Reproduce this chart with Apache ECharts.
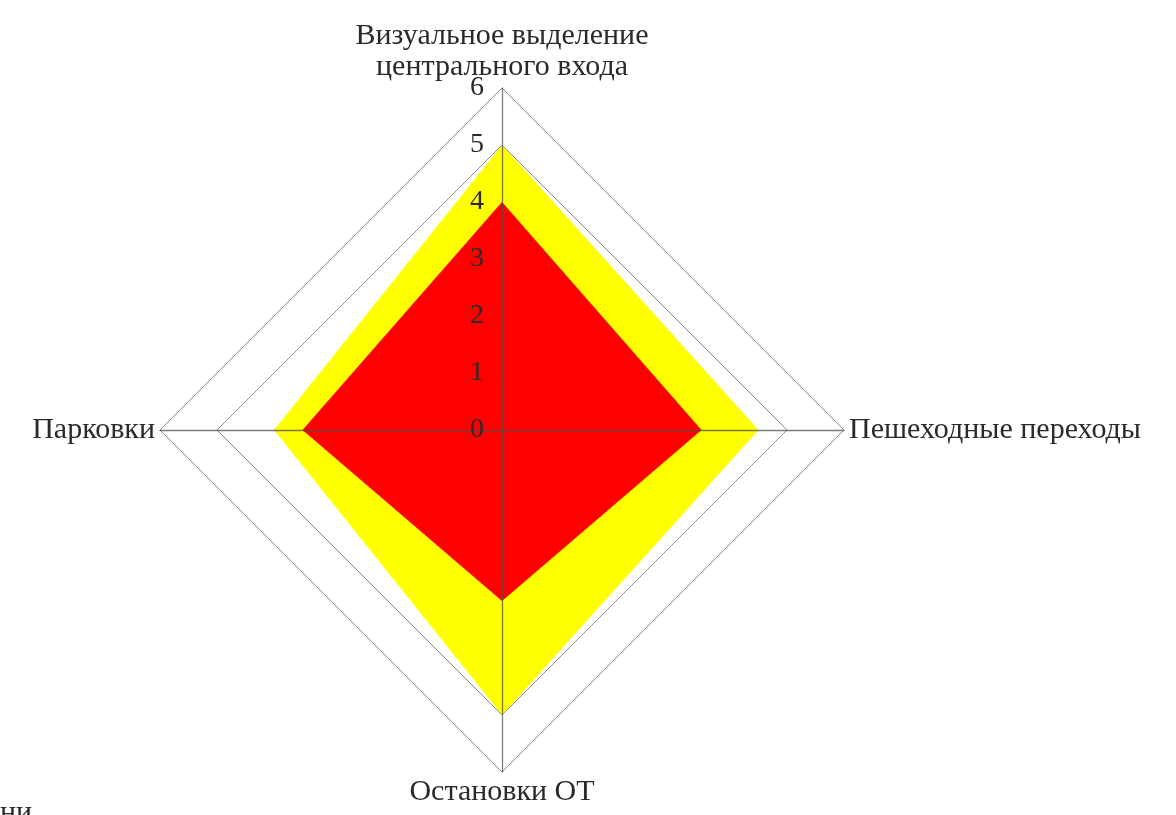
<!DOCTYPE html>
<html>
<head>
    <meta charset="utf-8">
    <title>ECharts</title>
    <script src="https://cdn.jsdelivr.net/npm/echarts@6/dist/echarts.min.js"></script>
    <style>
        html, body { margin: 0; padding: 0; background: #fff; }
    </style>
</head>
<body>
    <div id="main" style="width: 1176px;height:815px;"></div>
    <script type="text/javascript">
        // indicators go counter-clockwise from the top: top, left, bottom, right
        var axisNames = ['Визуальное выделение\nцентрального входа', 'Парковки', 'Остановки ОТ', 'Пешеходные переходы'];
        var axisMax = 6;
        var yellowValues = [5, 4, 5, 4.5];
        var redValues = [4, 3.5, 3, 3.5];

        var FONT = '"Liberation Serif", "DejaVu Serif", serif';

        var chart = echarts.init(document.getElementById('main'));

        // radar 0: grid lines (under the fills), radar 1: spokes + tick labels (over the fills)
        var indicatorsBase = axisNames.map(function (n) {
            return { name: n, max: axisMax, min: 0 };
        });
        var indicatorsTop = axisNames.map(function (n, i) {
            return { name: n, max: axisMax, min: 0, axisLabel: { show: i === 0 } };
        });

        var radarCommon = {
            center: [502, 430],
            radius: 342,
            startAngle: 90,
            splitNumber: 6,
            shape: 'polygon'
        };

        chart.setOption({
            animation: false,
            radar: [
                Object.assign({}, radarCommon, {
                    z: 1,
                    indicator: indicatorsBase,
                    axisName: {
                        color: '#2a2a2a',
                        fontFamily: FONT,
                        fontSize: 30,
                        lineHeight: 31
                    },
                    nameGap: 5,
                    axisLine: { show: false },
                    axisTick: { show: false },
                    splitLine: { lineStyle: { color: '#8c8c8c', width: 1 } },
                    splitArea: { show: false }
                }),
                Object.assign({}, radarCommon, {
                    z: 10,
                    indicator: indicatorsTop,
                    axisName: { show: false },
                    axisLine: { show: true, lineStyle: { color: 'rgba(80,80,80,0.75)', width: 1.3 } },
                    axisTick: { show: false },
                    axisLabel: {
                        show: true,
                        color: '#2a2a2a',
                        fontFamily: FONT,
                        fontSize: 28,
                        margin: 18
                    },
                    splitLine: { show: false },
                    splitArea: { show: false }
                })
            ],
            graphic: [{
                type: 'text',
                left: 0,
                top: 798,
                style: { text: 'ни', fill: '#2a2a2a', font: '30px "Liberation Serif", serif' }
            }],
            series: [{
                type: 'radar',
                radarIndex: 0,
                symbol: 'none',
                data: [{
                    name: 'yellow',
                    value: yellowValues,
                    lineStyle: { color: '#FFFF00', width: 0 },
                    areaStyle: { color: '#FFFF00', opacity: 1 }
                }, {
                    name: 'red',
                    value: redValues,
                    lineStyle: { color: '#FF0000', width: 0 },
                    areaStyle: { color: '#FF0000', opacity: 1 }
                }]
            }]
        });
    </script>
</body>
</html>
